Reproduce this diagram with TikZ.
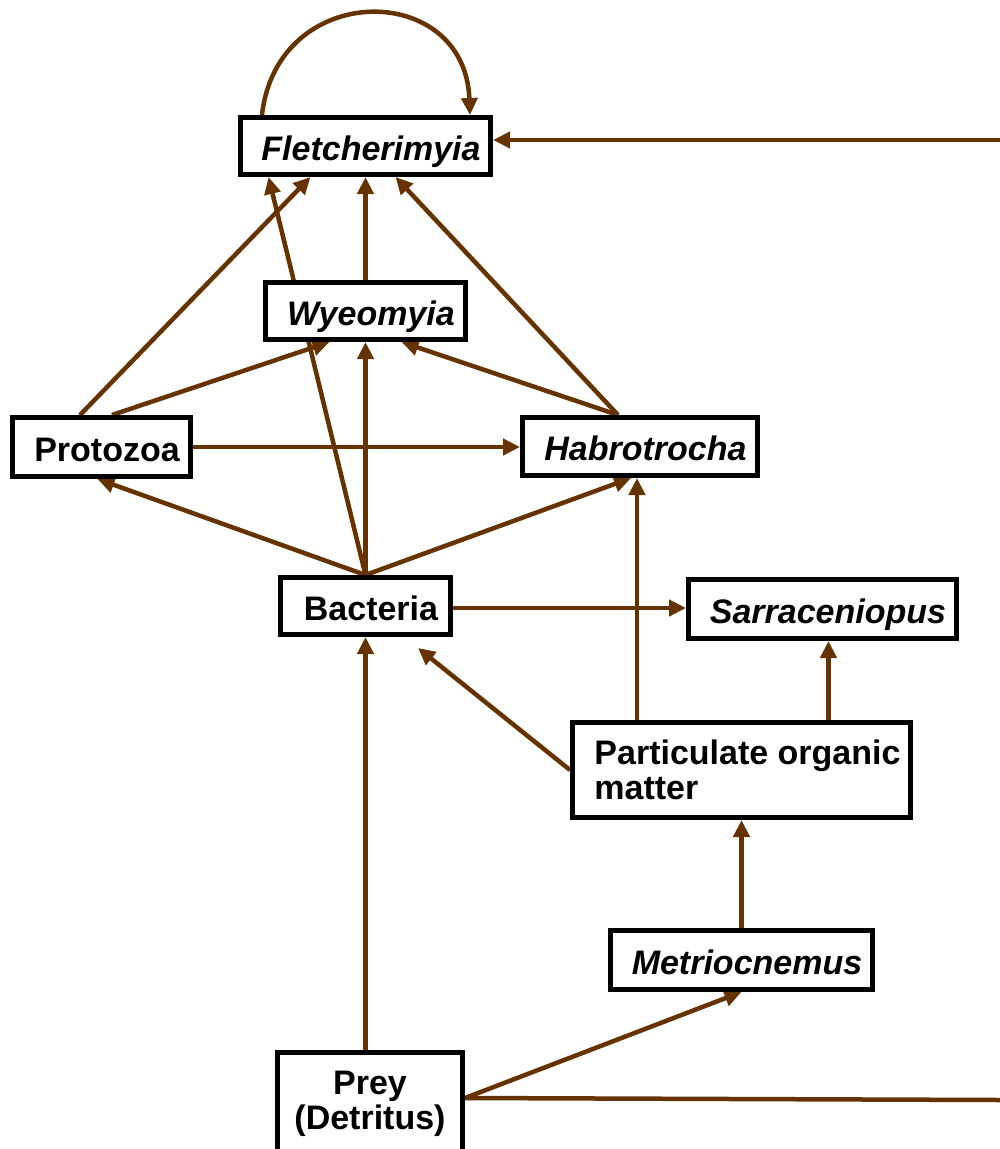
\documentclass[tikz,border=0pt]{standalone}
\usepackage{fontspec}
\setmainfont{Liberation Sans}
\usetikzlibrary{arrows.meta,backgrounds}
\definecolor{webbrown}{RGB}{102,51,0}

\begin{document}
\begin{tikzpicture}[x=1pt, y=-1pt,
    box/.style={shape=rectangle, draw=black, line width=5pt, fill=white, inner sep=0pt,
        font=\fontsize{34}{35}\selectfont\bfseries},
    padded/.style={text height=28pt, text depth=0pt, execute at begin node={\hspace*{11pt}}},
    link/.style={color=webbrown, line width=4.5pt, -{Triangle[length=17pt,width=16pt]}},
    plain/.style={color=webbrown, line width=4.5pt}]
    \useasboundingbox (0,0) rectangle (1000,1149);
    \node[box, padded, minimum width=250pt, minimum height=57pt] (Fl) at (365.5,146) {\itshape Fletcherimyia};
    \node[box, padded, minimum width=200pt, minimum height=57pt] (Wy) at (365.5,311) {\itshape Wyeomyia};
    \node[box, padded, minimum width=178pt, minimum height=59pt] (Pr) at (101.5,447) {Protozoa};
    \node[box, padded, minimum width=235pt, minimum height=58pt] (Ha) at (640,446.5) {\itshape Habrotrocha};
    \node[box, padded, minimum width=170pt, minimum height=57pt] (Ba) at (365.5,606) {Bacteria};
    \node[box, padded, minimum width=268pt, minimum height=59pt] (Sa) at (822.5,609) {\itshape Sarraceniopus};
    \node[box, minimum width=338pt, minimum height=95pt, align=left] (PO) at (741.5,770) {\hspace*{12pt}Particulate organic\\\hspace*{12pt}matter};
    \node[box, padded, minimum width=262pt, minimum height=59pt] (Me) at (741.5,960) {\itshape Metriocnemus};
    \node[box, minimum width=185pt, minimum height=103pt, align=center] (Py) at (370,1104) {Prey\\(Detritus)};
    \coordinate (topR) at (1000,140);
    \coordinate (botR) at (1000,1100);
    \coordinate (BaIn) at (418,648);
    \begin{scope}[on background layer]
    \draw [link] ([xshift=-103.5pt]Fl.north) .. controls +(15,-135) and +(-5,-135) .. ([xshift=104.5pt]Fl.north);
    \path [link] (topR) edge (topR -| Fl.east);
    \path [plain] ([yshift=6pt]Py.east) edge (botR);
    \path [link] ([yshift=6pt]Py.east) edge (Me.south);
    \path [link] (Ba.south |- Py.north) edge (Ba.south);
    \path [link] (Me.north) edge (PO.south);
    \path [link] ([xshift=6pt]Sa.south |- PO.north) edge ([xshift=6pt]Sa.south);
    \path [link] ([xshift=-3pt]Ha.south |- PO.north) edge ([xshift=-3pt]Ha.south);
    \path [link] (PO.west) edge (BaIn);
    \path [link] ([yshift=-2pt]Ba.east) edge ([yshift=-2pt]Ba.east -| Sa.west);
    \path [link] (Ba.north) edge ([xshift=-4pt]Pr.south);
    \path [link] (Ba.north) edge (Wy.south);
    \path [link] (Ba.north) edge ([xshift=-9pt]Ha.south);
    \path [link] (Ba.north) edge ([xshift=-97pt]Fl.south);
    \path [link] ([xshift=-21.5pt]Pr.north) edge ([xshift=-55pt]Fl.south);
    \path [link] ([xshift=10.5pt]Pr.north) edge ([xshift=-36pt]Wy.south);
    \path [link] (Pr.east) edge (Pr.east -| Ha.west);
    \path [link] (Wy.north) edge (Fl.south);
    \path [link] ([xshift=-22pt]Ha.north) edge ([xshift=30pt]Fl.south);
    \path [link] ([xshift=-22pt]Ha.north) edge ([xshift=36pt]Wy.south);
    \end{scope}
\end{tikzpicture}
\end{document}
